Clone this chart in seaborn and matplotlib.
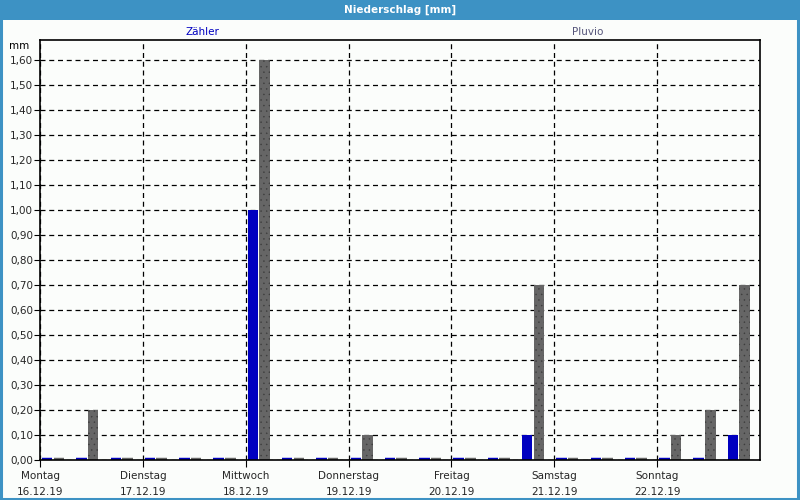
import matplotlib
matplotlib.use("Agg")
import matplotlib.pyplot as plt
from matplotlib.patches import Rectangle
from matplotlib.ticker import FuncFormatter
import seaborn as sns
import pandas as pd

# ---- data ----
slots = list(range(21))  # 8-hour intervals, 16.12.19 00:00 .. 22.12.19 16:00
zaehler = [0, 0, 0, 0, 0, 0, 1.0, 0, 0, 0, 0, 0, 0, 0, 0.1, 0, 0, 0, 0, 0, 0.1]
pluvio = [0, 0.2, 0, 0, 0, 0, 1.6, 0, 0, 0.1, 0, 0, 0, 0, 0.7, 0, 0, 0, 0.1, 0.2, 0.7]
series_names = ["Zähler", "Pluvio"]
day_names = ["Montag", "Dienstag", "Mittwoch", "Donnerstag", "Freitag", "Samstag", "Sonntag"]
day_dates = ["16.12.19", "17.12.19", "18.12.19", "19.12.19", "20.12.19", "21.12.19", "22.12.19"]
yticks = [i / 10 for i in range(17)]

df = pd.DataFrame({
    "slot": slots * 2,
    "value": zaehler + pluvio,
    "series": [series_names[0]] * len(slots) + [series_names[1]] * len(slots),
})

sns.set_style("white")
plt.rcParams["font.family"] = ["DejaVu Sans"]
plt.rcParams["hatch.linewidth"] = 0.3

fig = plt.figure(figsize=(8, 5), dpi=100)
fig.patch.set_facecolor("#fbfdfb")
ax = fig.add_axes([0.05, 0.08, 0.90, 0.84])
ax.set_facecolor("#fbfdfb")

blue = "#0000c0"
grey = "#666666"
sns.barplot(data=df, x="slot", y="value", hue="series", order=slots,
            hue_order=series_names, palette=[blue, grey], width=0.68, gap=0.1,
            legend=False, ax=ax, saturation=1)

# zero values drawn as thin lines, grey bars stippled
for container, col in zip(ax.containers, [blue, grey]):
    for p in container:
        p.set_zorder(3)
        if p.get_height() == 0:
            p.set_edgecolor(col)
            p.set_linewidth(3.2)
            p.set_joinstyle("miter")
        else:
            p.set_linewidth(0)
            if col == grey:
                ax.add_patch(Rectangle(p.get_xy(), p.get_width(), p.get_height(),
                                       facecolor="none", edgecolor="#3c3c3c",
                                       hatch="...", lw=0, zorder=4))

shift = 0.38
ax.set_xlim(-shift, 21 - shift)
ax.set_ylim(0, 1.68)

day_pos = [3 * i - shift for i in range(7)]
ax.set_xticks(day_pos)
ax.set_xticklabels([f"{d}\n{t}" for d, t in zip(day_names, day_dates)],
                   fontsize=7.5, linespacing=1.7)
ax.set_yticks(yticks)
ax.yaxis.set_major_formatter(FuncFormatter(lambda v, p: f"{v:.2f}".replace(".", ",")))
ax.tick_params(axis="y", labelsize=7.5, length=4, direction="out", pad=1,
               left=True, color="black")
ax.tick_params(axis="x", length=5, direction="out", pad=3, bottom=True, color="black")
ax.set_xlabel("")
ax.set_ylabel("")

ax.grid(True, axis="both", color="black", linestyle=(0, (4, 3)), linewidth=0.9)
ax.set_axisbelow(True)
for s in ax.spines.values():
    s.set_visible(True)
    s.set_color("black")
    s.set_linewidth(1.2)
    s.set_zorder(5)

# title bar
fig.patches.append(Rectangle((0, 0.96), 1, 0.04, transform=fig.transFigure,
                             facecolor="#3d92c4", edgecolor="none", zorder=0))
fig.text(0.5, 0.98, "Niederschlag [mm]", ha="center", va="center",
         color="white", fontsize=7.5, fontweight="bold")
# outer border
fig.patches.append(Rectangle((0.001, 0.002), 0.997, 0.996, transform=fig.transFigure,
                             facecolor="none", edgecolor="#3d92c4", lw=2.2, zorder=5))

# series labels
fig.text(202 / 800, 1 - 32 / 500, series_names[0], ha="center", va="center",
         color=blue, fontsize=7.5)
fig.text(588 / 800, 1 - 32 / 500, series_names[1], ha="center", va="center",
         color="#55557a", fontsize=7.5)
fig.text(29 / 800, 1 - 46 / 500, "mm", ha="right", va="center",
         color="black", fontsize=7.5)

fig.savefig("out.png", dpi=100, facecolor=fig.get_facecolor())
